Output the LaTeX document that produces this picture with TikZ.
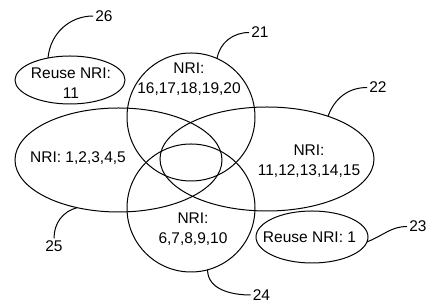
\documentclass[tikz,border=0pt]{standalone}
\usepackage{fontspec}
\setmainfont{Liberation Sans}
\usetikzlibrary{shapes.geometric, positioning}

\begin{document}
\begin{tikzpicture}[
    x=1pt, y=1pt,
    every node/.style={font=\fontsize{15.5}{20}\selectfont, align=center},
    set/.style={ellipse, draw=black, line width=1pt, inner sep=0pt, outer sep=0pt},
    tag/.style={inner sep=2pt},
    lead/.style={draw, line width=1pt}
]
    \useasboundingbox (0,0) rectangle (432,307);

    % Sets
    \node[set, minimum width=128pt, minimum height=128pt] (upper) at (191,190) {};
    \node[set, minimum width=128pt, minimum height=128pt] (lower) at (191,99) {};
    \node[set, minimum width=207pt, minimum height=104pt] (left) at (118.5,147) {};
    \node[set, minimum width=214pt, minimum height=104pt] (right) at (267,148) {};
    \node[set, minimum width=110pt, minimum height=48pt] (reuseA) at (70,227) {};
    \node[set, minimum width=112pt, minimum height=52pt] (reuseB) at (312,70) {};

    % Texts
    \node (upperT) at (189,228) {NRI:\\16,17,18,19,20};
    \node (leftT) at (78,149) {NRI: 1,2,3,4,5};
    \node (rightT) at (309,146) {NRI:\\11,12,13,14,15};
    \node (lowerT) at (193,77.5) {NRI:\\6,7,8,9,10};
    \node (reuseAT) at (71,223.5) {Reuse NRI:\\11};
    \node (reuseBT) at (309.5,70) {Reuse NRI: 1};

    % Reference numbers
    \node[tag] (n26) at (104,291) {26};
    \node[tag] (n21) at (260,274.5) {21};
    \node[tag] (n22) at (378,219.5) {22};
    \node[tag] (n23) at (418,80.5) {23};
    \node[tag] (n24) at (261.5,12) {24};
    \node[tag] (n25) at (54,61) {25};

    % Leaders
    \path[lead] (upper.66) to[out=80, in=180] (n21.west);
    \path[lead] (right.35) to[out=70, in=180] (n22.west);
    \path[lead] (reuseB.-5) to[out=20, in=180] (n23.west);
    \path[lead] (lower.-75) to[out=-90, in=180] (n24.west);
    \path[lead] (left.-131) to[out=195, in=90] (n25.north);
    \path[lead] (reuseA.135) to[out=85, in=180] (n26.west);
\end{tikzpicture}
\end{document}
